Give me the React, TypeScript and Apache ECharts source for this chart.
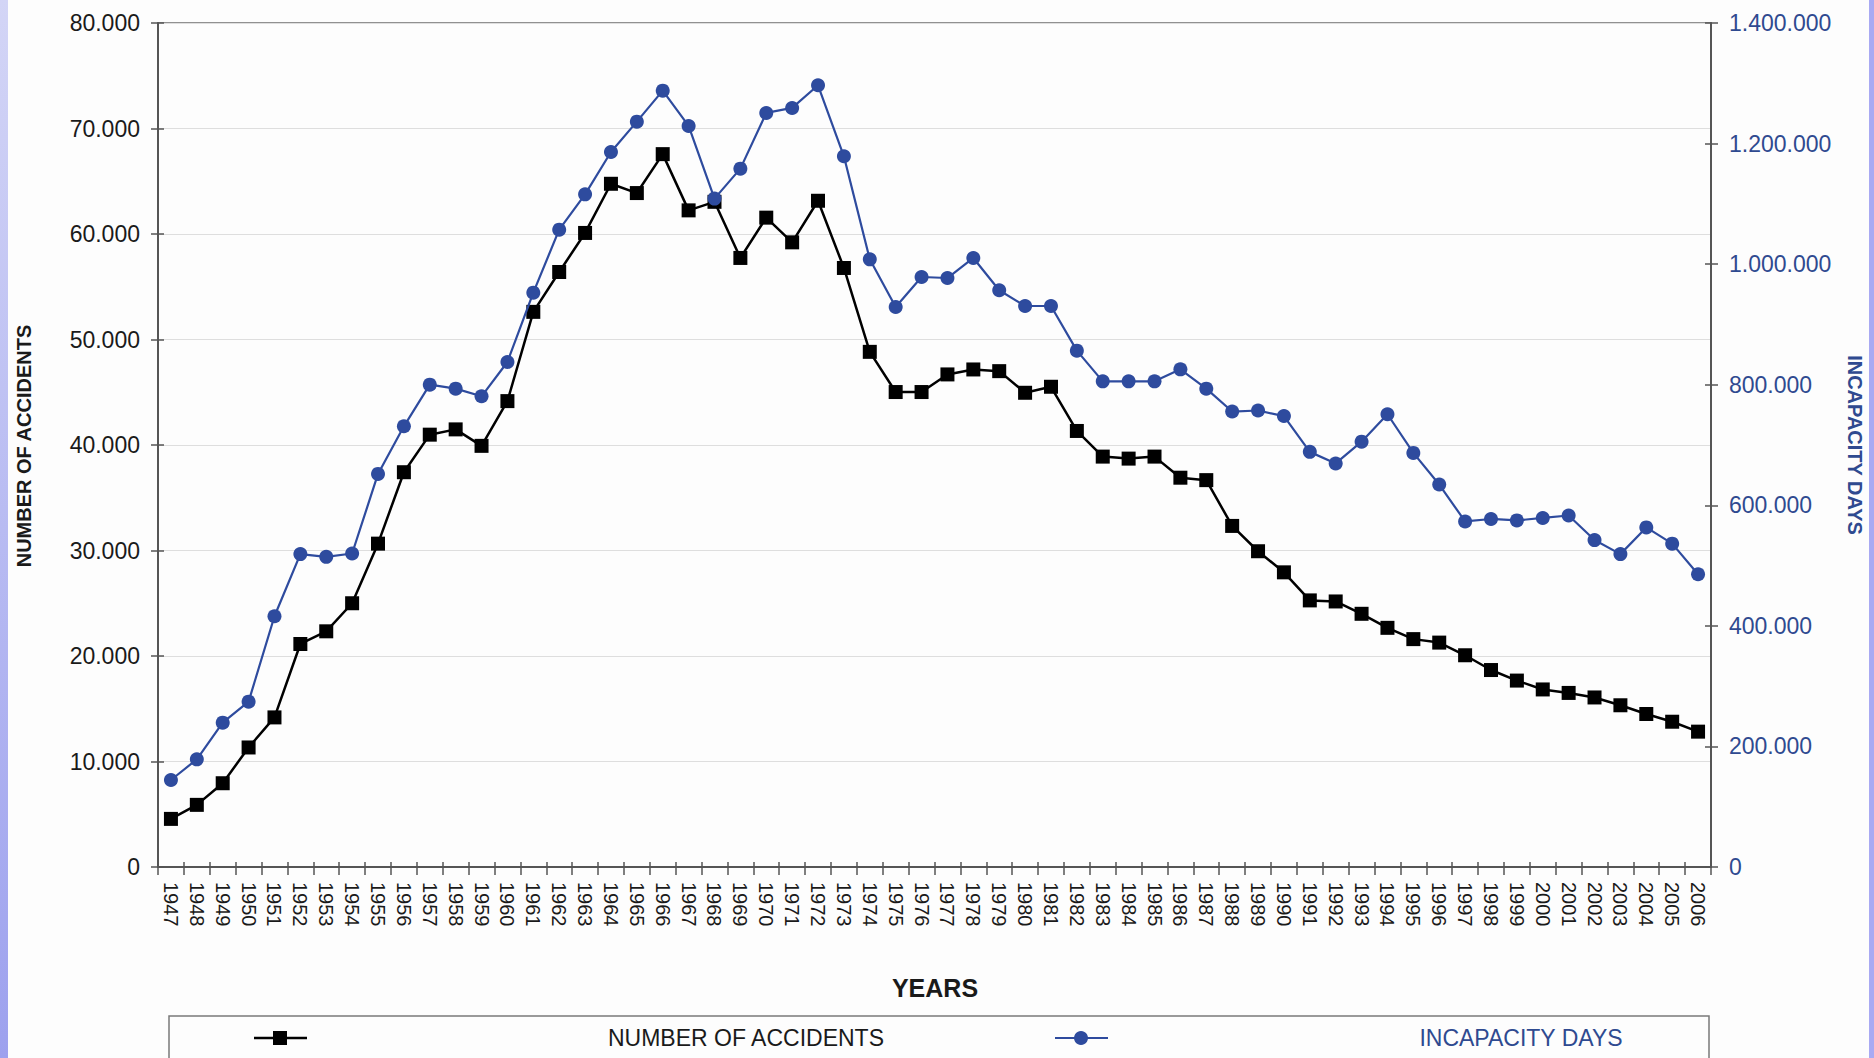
import React, { useEffect, useRef } from "react";
import * as echarts from "echarts";

const years: string[] = [
  "1947","1948","1949","1950","1951","1952","1953","1954","1955","1956",
  "1957","1958","1959","1960","1961","1962","1963","1964","1965","1966",
  "1967","1968","1969","1970","1971","1972","1973","1974","1975","1976",
  "1977","1978","1979","1980","1981","1982","1983","1984","1985","1986",
  "1987","1988","1989","1990","1991","1992","1993","1994","1995","1996",
  "1997","1998","1999","2000","2001","2002","2003","2004","2005","2006",
];

const accidents: number[] = [
  4560, 5890, 7940, 11330, 14180, 21140, 22340, 25000, 30650, 37420,
  40980, 41480, 39920, 44160, 52620, 56400, 60100, 64760, 63880, 67570,
  62240, 63050, 57730, 61550, 59210, 63150, 56780, 48830, 45020, 45020,
  46690, 47160, 47000, 44950, 45520, 41330, 38900, 38710, 38900, 36900,
  36670, 32330, 29930, 27930, 25270, 25170, 24000, 22670, 21600, 21270,
  20070, 18670, 17670, 16830, 16500, 16070, 15330, 14500, 13770, 12830,
];

const incapacityDays: number[] = [
  144300, 178600, 239400, 274300, 416000, 519000, 514500, 520000, 652000, 731000,
  800100, 793500, 780800, 837700, 952700, 1057200, 1115800, 1186000, 1236400, 1287800,
  1229200, 1108700, 1158400, 1250800, 1259100, 1296700, 1178900, 1008000, 929000, 978700,
  977000, 1010200, 956600, 930600, 930600, 856500, 805600, 805600, 805600, 825500,
  793500, 755500, 757200, 748000, 688600, 669400, 705500, 751000, 686900, 634400,
  573200, 577300, 574900, 579000, 583100, 542300, 519000, 563300, 536400, 485700,
];

const leftTicks = { min: 0, max: 80000, interval: 10000 };
const rightTicks = { min: 0, max: 1400000, interval: 200000 };

const BLUE = "#2E4B9E";
const BLUE_TEXT = "#2F4A90";
const FONT = "'Liberation Sans', Arial, sans-serif";
const AXIS = "#555";

const dotted = (v: number) =>
  String(v).replace(/\B(?=(\d{3})+(?!\d))/g, ".");

export default function App() {
  const ref = useRef<HTMLDivElement | null>(null);

  useEffect(() => {
    if (!ref.current) return;
    const chart = echarts.init(ref.current, undefined, { renderer: "svg" });
    const tickStyle = { color: AXIS, width: 1.5 };
    const option: any = {
      animation: false,
      backgroundColor: "#FDFDFD",
      textStyle: { fontFamily: FONT },
      grid: {
        left: 158,
        right: 163,
        top: 23,
        bottom: 191,
        show: true,
        borderColor: "#6E6E6E",
        borderWidth: 1.5,
        backgroundColor: "transparent",
      },
      xAxis: [
        {
          type: "category",
          data: years,
          boundaryGap: true,
          axisLine: { lineStyle: { color: AXIS, width: 2 } },
          axisTick: { show: true, interval: 0, length: 8, lineStyle: tickStyle },
          axisLabel: {
            interval: 0,
            rotate: -90,
            margin: 15,
            fontSize: 20,
            color: "#1A1A1A",
            fontFamily: FONT,
          },
          splitLine: { show: false },
        },
        {
          type: "category",
          data: years,
          position: "bottom",
          boundaryGap: true,
          axisLine: { show: false },
          axisTick: { show: true, inside: true, interval: 0, length: 5, lineStyle: tickStyle },
          axisLabel: { show: false },
          splitLine: { show: false },
        },
      ],
      yAxis: [
        {
          type: "value",
          min: leftTicks.min,
          max: leftTicks.max,
          interval: leftTicks.interval,
          axisLine: { show: true, lineStyle: { color: AXIS, width: 2 } },
          axisTick: { show: true, length: 7, lineStyle: tickStyle },
          axisLabel: {
            formatter: dotted,
            fontSize: 23,
            margin: 18,
            color: "#1A1A1A",
            fontFamily: FONT,
          },
          splitLine: { show: true, lineStyle: { color: "#DEDEDE", width: 1.2 } },
        },
        {
          type: "value",
          position: "right",
          min: rightTicks.min,
          max: rightTicks.max,
          interval: rightTicks.interval,
          axisLine: { show: true, lineStyle: { color: AXIS, width: 2 } },
          axisTick: { show: true, length: 7, lineStyle: tickStyle },
          axisLabel: {
            formatter: dotted,
            fontSize: 23,
            margin: 18,
            color: BLUE_TEXT,
            fontFamily: FONT,
          },
          splitLine: { show: false },
        },
        {
          type: "value",
          position: "left",
          min: leftTicks.min,
          max: leftTicks.max,
          interval: leftTicks.interval,
          axisLine: { show: false },
          axisTick: { show: true, inside: true, length: 6, lineStyle: tickStyle },
          axisLabel: { show: false },
          splitLine: { show: false },
        },
        {
          type: "value",
          position: "right",
          min: rightTicks.min,
          max: rightTicks.max,
          interval: rightTicks.interval,
          axisLine: { show: false },
          axisTick: { show: true, inside: true, length: 6, lineStyle: tickStyle },
          axisLabel: { show: false },
          splitLine: { show: false },
        },
      ],
      series: [
        {
          name: "NUMBER OF ACCIDENTS",
          type: "line",
          xAxisIndex: 0,
          yAxisIndex: 0,
          data: accidents,
          symbol: "rect",
          symbolSize: 14,
          itemStyle: { color: "#000" },
          lineStyle: { color: "#000", width: 2.5 },
          z: 2,
        },
        {
          name: "INCAPACITY DAYS",
          type: "line",
          xAxisIndex: 0,
          yAxisIndex: 1,
          data: incapacityDays,
          symbol: "circle",
          symbolSize: 14,
          itemStyle: { color: BLUE },
          lineStyle: { color: BLUE, width: 2.2 },
          z: 3,
        },
      ],
      graphic: [
        {
          type: "rect",
          left: 0,
          top: 0,
          shape: { width: 8, height: 1058 },
          style: {
            fill: new echarts.graphic.LinearGradient(0, 0, 0, 1, [
              { offset: 0, color: "#D3D5F6" },
              { offset: 1, color: "#9DA1EE" },
            ]),
          },
        },
        {
          type: "rect",
          left: 1869,
          top: 0,
          shape: { width: 5, height: 1058 },
          style: { fill: "#A9AAF3" },
        },
        {
          type: "text",
          x: 24,
          y: 446,
          rotation: Math.PI / 2,
          style: {
            text: "NUMBER OF ACCIDENTS",
            fontSize: 20,
            fontWeight: "bold",
            fontFamily: FONT,
            fill: "#1A1A1A",
            align: "center",
            verticalAlign: "middle",
          },
        },
        {
          type: "text",
          x: 1855,
          y: 445,
          rotation: -Math.PI / 2,
          style: {
            text: "INCAPACITY DAYS",
            fontSize: 20,
            fontWeight: "bold",
            fontFamily: FONT,
            fill: BLUE_TEXT,
            align: "center",
            verticalAlign: "middle",
          },
        },
        {
          type: "text",
          x: 935,
          y: 988,
          style: {
            text: "YEARS",
            fontSize: 25,
            fontWeight: "bold",
            fontFamily: FONT,
            fill: "#1A1A1A",
            align: "center",
            verticalAlign: "middle",
          },
        },
        {
          type: "rect",
          shape: { x: 169, y: 1016, width: 1540, height: 60 },
          style: { fill: "none", stroke: "#7A7A7A", lineWidth: 1.5 },
        },
        {
          type: "line",
          shape: { x1: 254, y1: 1038, x2: 307, y2: 1038 },
          style: { stroke: "#000", lineWidth: 2.5 },
        },
        {
          type: "rect",
          shape: { x: 273, y: 1031, width: 14, height: 14 },
          style: { fill: "#000" },
        },
        {
          type: "text",
          x: 746,
          y: 1038,
          style: {
            text: "NUMBER OF ACCIDENTS",
            fontSize: 23,
            fontFamily: FONT,
            fill: "#1A1A1A",
            align: "center",
            verticalAlign: "middle",
          },
        },
        {
          type: "line",
          shape: { x1: 1055, y1: 1038, x2: 1108, y2: 1038 },
          style: { stroke: BLUE, lineWidth: 2.2 },
        },
        {
          type: "circle",
          shape: { cx: 1081, cy: 1038, r: 7 },
          style: { fill: BLUE },
        },
        {
          type: "text",
          x: 1521,
          y: 1038,
          style: {
            text: "INCAPACITY DAYS",
            fontSize: 23,
            fontFamily: FONT,
            fill: BLUE_TEXT,
            align: "center",
            verticalAlign: "middle",
          },
        },
      ],
    };
    chart.setOption(option);
    return () => chart.dispose();
  }, []);

  return (
    <div
      ref={ref}
      style={{ position: "fixed", left: 0, top: 0, width: 1874, height: 1058 }}
    />
  );
}
